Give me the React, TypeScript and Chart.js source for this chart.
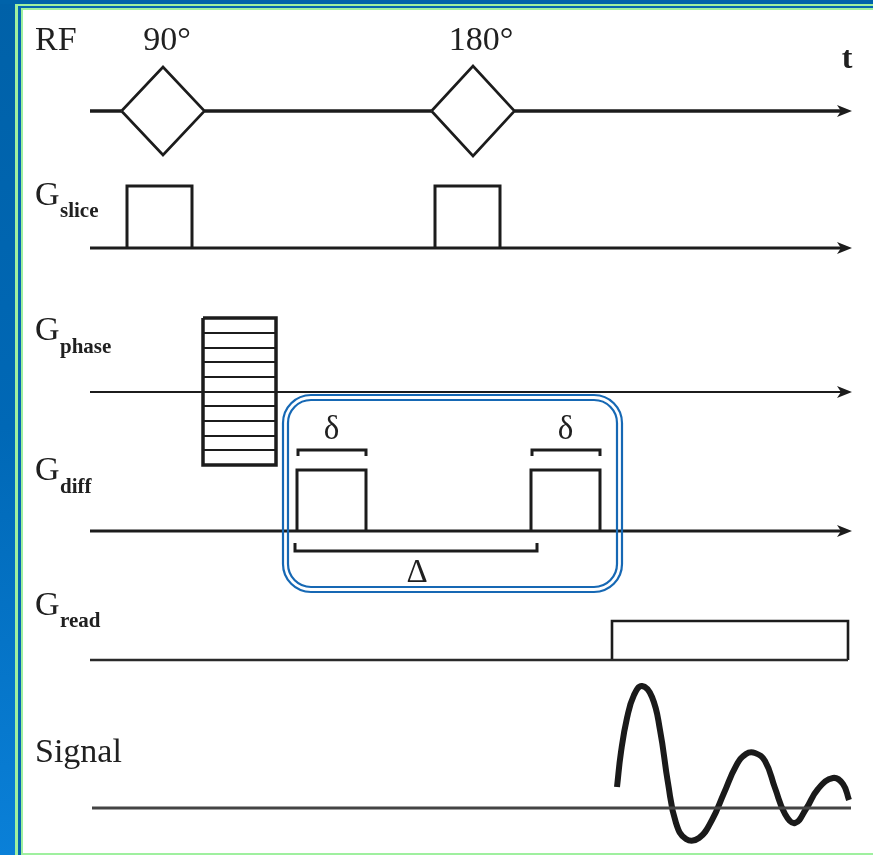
import React, { useEffect, useRef } from 'react';
import { Chart, registerables } from 'chart.js';

Chart.register(...registerables);

const W = 873;
const H = 855;

// time axis extent (time units = horizontal position)
const axisStart = 90;
const axisEnd = 852;

// channels
const channelNames = ['RF', 'G', 'G', 'G', 'G', 'Signal'];
const channelSubs = ['', 'slice', 'phase', 'diff', 'read', ''];
const channelBaselines = [111, 248, 392, 531, 660, 808];
const labelBaselines = [50, 205, 340, 480, 615, 762];
const subBaselines = [0, 217, 353, 493, 627, 0];
const baselineWidths = [3.5, 3, 2.2, 3, 2.5, 3];
const baselineColors = ['#1c1c1c', '#1c1c1c', '#1c1c1c', '#1c1c1c', '#2a2a2a', '#444444'];
const arrowChannels = [0, 1, 2, 3];
const labelX = 35;
const subX = 60;

// RF pulses
const rfCenters = [163, 473];
const rfHalfWidths = [41.5, 41.5];
const rfHalfHeights = [44, 45];
const rfLabels = ['90°', '180°'];
const rfLabelCenters = [167, 481];

// slice-select gradient
const sliceStarts = [127, 435];
const sliceEnds = [192, 500];
const sliceTop = 186;

// phase-encoding table
const phaseStart = 203;
const phaseEnd = 276;
const phaseLevels = [318, 333, 348, 362, 377, 392, 406, 421, 436, 450, 465];

// diffusion gradients
const diffStarts = [297, 531];
const diffEnds = [366, 600];
const diffTop = 470;
const smallDeltaY = 450;
const bigDeltaY = 551;
const smallDeltaLabelY = 439;
const bigDeltaLabelY = 582;

// highlight box around diffusion block
const boxLeft = 283;
const boxRight = 622;
const boxTop = 395;
const boxBottom = 592;

// readout gradient
const readStart = 612;
const readEnd = 848;
const readTop = 621;

// echo signal (traced points)
const signalT = [617, 621, 627, 634, 642, 652, 660, 668, 676, 686, 699, 712, 724, 736, 746, 755, 765, 775, 785, 795, 806, 818, 833, 843, 849];
const signalV = [787, 752, 718, 695, 686, 697, 730, 783, 823, 839, 838, 820, 793, 766, 754, 753, 761, 788, 814, 823, 809, 789, 778, 784, 800];

type P = { x: number; y: number };

function line(points: P[], width: number, color = '#1c1c1c', extra: any = {}) {
  return {
    data: points,
    showLine: true,
    pointRadius: 0,
    pointHoverRadius: 0,
    borderWidth: width,
    borderColor: color,
    backgroundColor: color,
    borderCapStyle: 'butt',
    borderJoinStyle: 'miter',
    tension: 0,
    fill: false,
    ...extra,
  };
}

function buildDatasets() {
  const ds: any[] = [];
  // baselines
  channelBaselines.forEach((yb, i) => {
    if (i === 0) {
      const cuts: number[] = [axisStart];
      rfCenters.forEach((c, k) => {
        cuts.push(c - rfHalfWidths[k]);
        cuts.push(c + rfHalfWidths[k]);
      });
      cuts.push(axisEnd - 10);
      for (let k = 0; k < cuts.length; k += 2) {
        ds.push(line([{ x: cuts[k], y: yb }, { x: cuts[k + 1], y: yb }], baselineWidths[i], baselineColors[i]));
      }
    } else {
      const end = i === 4 ? readEnd : i === 5 ? axisEnd - 1 : axisEnd - 10;
      const start = i === 5 ? axisStart + 2 : axisStart;
      ds.push(line([{ x: start, y: yb }, { x: end, y: yb }], baselineWidths[i], baselineColors[i]));
    }
  });
  // RF diamonds
  rfCenters.forEach((c, k) => {
    const yb = channelBaselines[0];
    const hw = rfHalfWidths[k];
    const hh = rfHalfHeights[k];
    ds.push(
      line(
        [
          { x: c - hw, y: yb },
          { x: c, y: yb - hh },
          { x: c + hw, y: yb },
          { x: c, y: yb + hh },
          { x: c - hw, y: yb },
        ],
        2.6
      )
    );
  });
  // slice pulses
  sliceStarts.forEach((s, k) => {
    const yb = channelBaselines[1];
    ds.push(
      line(
        [
          { x: s, y: yb },
          { x: s, y: sliceTop },
          { x: sliceEnds[k], y: sliceTop },
          { x: sliceEnds[k], y: yb },
        ],
        3
      )
    );
  });
  // phase table
  phaseLevels.forEach((lv) => {
    ds.push(line([{ x: phaseStart, y: lv }, { x: phaseEnd, y: lv }], 2.2));
  });
  ds.push(
    line(
      [
        { x: phaseStart, y: phaseLevels[0] },
        { x: phaseEnd, y: phaseLevels[0] },
        { x: phaseEnd, y: phaseLevels[phaseLevels.length - 1] },
        { x: phaseStart, y: phaseLevels[phaseLevels.length - 1] },
        { x: phaseStart, y: phaseLevels[0] },
      ],
      3.5
    )
  );
  // diffusion pulses + delta brackets
  diffStarts.forEach((s, k) => {
    const yb = channelBaselines[3];
    const e = diffEnds[k];
    ds.push(
      line(
        [
          { x: s, y: yb },
          { x: s, y: diffTop },
          { x: e, y: diffTop },
          { x: e, y: yb },
        ],
        3
      )
    );
    ds.push(
      line(
        [
          { x: s + 1, y: smallDeltaY + 6 },
          { x: s + 1, y: smallDeltaY },
          { x: e, y: smallDeltaY },
          { x: e, y: smallDeltaY + 6 },
        ],
        3
      )
    );
  });
  ds.push(
    line(
      [
        { x: diffStarts[0] - 2, y: bigDeltaY - 8 },
        { x: diffStarts[0] - 2, y: bigDeltaY },
        { x: diffStarts[1] + 6, y: bigDeltaY },
        { x: diffStarts[1] + 6, y: bigDeltaY - 8 },
      ],
      3
    )
  );
  // readout
  ds.push(
    line(
      [
        { x: readStart, y: channelBaselines[4] },
        { x: readStart, y: readTop },
        { x: readEnd, y: readTop },
        { x: readEnd, y: channelBaselines[4] },
      ],
      2.6
    )
  );
  // signal
  ds.push(
    line(
      signalT.map((t, i) => ({ x: t, y: signalV[i] })),
      6,
      '#1a1a1a',
      { tension: 0.45, borderJoinStyle: 'round' }
    )
  );
  return ds;
}

const framePlugin = {
  id: 'frame',
  beforeDraw(chart: any) {
    const ctx = chart.ctx;
    const w = chart.width;
    const h = chart.height;
    ctx.save();
    ctx.fillStyle = '#ffffff';
    ctx.fillRect(0, 0, w, h);
    const g = ctx.createLinearGradient(0, 0, 0, h);
    g.addColorStop(0, '#0061a8');
    g.addColorStop(0.5, '#0068b6');
    g.addColorStop(1, '#0a80d8');
    ctx.fillStyle = g;
    ctx.fillRect(0, 0, 15, h);
    ctx.fillStyle = '#0063aa';
    ctx.fillRect(0, 0, w, 4);
    ctx.fillStyle = '#9ff09f';
    ctx.fillRect(15, 4, w - 15, h - 4);
    ctx.fillStyle = '#0466b2';
    ctx.fillRect(18, 6, w - 18, h - 6);
    ctx.fillStyle = '#9ff09f';
    ctx.fillRect(21, 8, w - 21, h - 8);
    ctx.fillStyle = '#ffffff';
    ctx.fillRect(23, 10, w - 23, h - 12);
    ctx.restore();
  },
};

const annotatePlugin = {
  id: 'annotate',
  afterDatasetsDraw(chart: any) {
    const ctx = chart.ctx;
    const xs = chart.scales.x;
    const ys = chart.scales.y;
    const px = (v: number) => xs.getPixelForValue(v);
    const py = (v: number) => ys.getPixelForValue(v);
    ctx.save();
    // arrow heads
    ctx.fillStyle = '#1c1c1c';
    arrowChannels.forEach((i) => {
      const yb = channelBaselines[i];
      ctx.beginPath();
      ctx.moveTo(px(axisEnd), py(yb));
      ctx.lineTo(px(axisEnd - 15), py(yb - 6));
      ctx.lineTo(px(axisEnd - 11), py(yb));
      ctx.lineTo(px(axisEnd - 15), py(yb + 6));
      ctx.closePath();
      ctx.fill();
    });
    // highlight box (double line)
    ctx.strokeStyle = '#1668b4';
    ctx.lineWidth = 2.2;
    const rr = (inset: number, r: number) => {
      ctx.beginPath();
      ctx.roundRect(
        px(boxLeft) + inset,
        py(boxTop) + inset,
        px(boxRight) - px(boxLeft) - 2 * inset,
        py(boxBottom) - py(boxTop) - 2 * inset,
        r
      );
      ctx.stroke();
    };
    rr(0, 28);
    rr(5, 23);
    // labels
    ctx.fillStyle = '#202020';
    ctx.textBaseline = 'alphabetic';
    ctx.textAlign = 'left';
    channelNames.forEach((n, i) => {
      ctx.font = '34px "Liberation Serif"';
      ctx.fillText(n, px(labelX), py(labelBaselines[i]));
      if (channelSubs[i]) {
        ctx.font = 'bold 21px "Liberation Serif"';
        ctx.fillText(channelSubs[i], px(subX), py(subBaselines[i]));
      }
    });
    ctx.textAlign = 'center';
    ctx.font = '34px "Liberation Serif"';
    rfLabels.forEach((l, k) => {
      ctx.fillText(l, px(rfLabelCenters[k]), py(labelBaselines[0]));
    });
    ctx.font = 'bold 32px "Liberation Serif"';
    ctx.fillText('t', px(axisEnd - 5), py(68));
    ctx.font = '33px "Liberation Serif"';
    diffStarts.forEach((s, k) => {
      ctx.fillText('δ', px((s + diffEnds[k]) / 2), py(smallDeltaLabelY));
    });
    ctx.fillText('Δ', px((diffStarts[0] + diffStarts[1]) / 2 + 3), py(bigDeltaLabelY));
    ctx.restore();
  },
};

export default function App() {
  const ref = useRef<HTMLCanvasElement | null>(null);
  useEffect(() => {
    if (!ref.current) return;
    const chart = new Chart(ref.current, {
      type: 'scatter',
      data: { datasets: buildDatasets() },
      options: {
        animation: false,
        responsive: false,
        devicePixelRatio: 1,
        layout: { padding: 0 },
        plugins: { legend: { display: false }, tooltip: { enabled: false } },
        events: [],
        scales: {
          x: { type: 'linear', min: 0, max: W, display: false },
          y: { type: 'linear', min: 0, max: H, reverse: true, display: false },
        },
      },
      plugins: [framePlugin, annotatePlugin],
    } as any);
    return () => chart.destroy();
  }, []);
  return (
    <div style={{ position: 'absolute', left: 0, top: 0, width: W, height: H }}>
      <canvas ref={ref} width={W} height={H} style={{ display: 'block' }} />
    </div>
  );
}
